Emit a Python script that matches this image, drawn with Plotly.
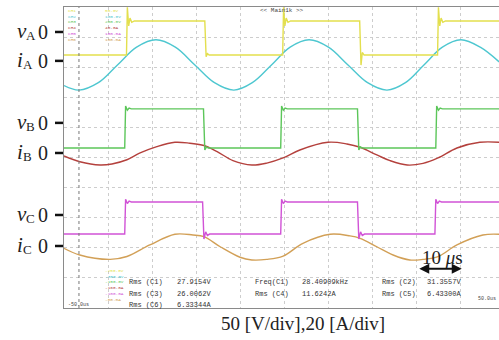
import plotly.graph_objects as go

# ---------------- data ----------------
# time in microseconds, 10 us/div, screen spans -50 us .. +50 us
# voltages in V (50 V/div), currents in A (20 A/div), relative to each channel's marked zero
vA_t = [-50, -35.8, -35.6, -35.3, -35.0, -34.6, -34.0, -18.0, -17.7, -17.4, -17.0,
        -0.3, -0.1, 0.2, 0.5, 0.9, 1.5, 17.2, 17.5, 17.8, 18.2,
        34.9, 35.1, 35.4, 35.7, 36.1, 36.7, 48.9]
vA_v = [-38.3, -38.3, 41, 10, 23, 16, 18.3, 18.3, -41, -36, -38.3,
        -38.3, 41, 10, 23, 16, 18.3, 18.3, -55, -34, -38.3,
        -38.3, 41, 10, 23, 16, 18.3, 18.3]

vB_t = [-50, -36.2, -36.0, -35.6, -35.2, -34.7, -18.3, -18.0, -17.6, -17.2,
        -0.75, -0.55, -0.15, 0.25, 0.75, 16.7, 17.0, 17.4, 17.8,
        34.5, 34.7, 35.1, 35.5, 36.0, 48.9]
vB_v = [-41.7, -41.7, 28, 21, 24.5, 23.3, 23.3, -45, -40, -41.7,
        -41.7, 28, 21, 24.5, 23.3, 23.3, -45, -40, -41.7,
        -41.7, 28, 21, 24.5, 23.3, 23.3]

vC_t = [-50, -36.2, -36.0, -35.6, -35.2, -34.7, -18.5, -18.2, -17.8, -17.4, -16.9,
        -0.75, -0.55, -0.15, 0.25, 0.75, 16.7, 17.0, 17.4, 17.8, 18.3,
        34.3, 34.5, 34.9, 35.3, 35.8, 48.9]
vC_v = [-31.7, -31.7, 26, 19, 23, 21.7, 21.7, -40, -28, -34, -31.7,
        -31.7, 26, 19, 23, 21.7, 21.7, -40, -28, -34, -31.7,
        -31.7, 26, 19, 23, 21.7, 21.7]

iA_t = [-50, -46.6, -42.2, -37.85, -33.5, -29.1, -24.7, -20.25, -15.8, -11.4, -7.2,
        -2.85, 1.4, 5.7, 10.1, 14.55, 19.0, 23.4, 27.6, 31.8, 36.0, 40.2, 44.6, 48.9]
iA_v = [-16.4, -19.4, -14.5, -2.7, 9.1, 14.0, 9.1, -2.7, -14.5, -19.4, -14.5,
        -2.7, 9.1, 14.0, 9.1, -2.7, -14.5, -19.4, -14.5, -2.7, 9.1, 14.0, 9.1, -0.7]

iB_t = [-50, -46.4, -41.8, -39.1, -35.7, -32.7, -28.9, -24.8, -21.4, -18.2, -15.2,
        -11.6, -7.3, -3.9, -0.2, 3.6, 10.0, 14.3, 17.3, 21.1, 24.1, 28.0, 31.6,
        35.0, 39.3, 44.5, 48.9]
iB_v = [-2.0, -5.8, -8.0, -7.3, -4.5, 0.0, 4.2, 7.1, 6.5, 5.0, 0.9,
        -5.1, -8.0, -6.7, -3.3, 2.0, 7.1, 6.0, 3.8, -1.3, -5.1, -8.0, -6.9,
        -3.3, 3.3, 7.1, 7.1]

iC_t = [-50, -46.4, -39.5, -35.7, -30.5, -24.8, -20.7, -18.2, -14.5, -10.0, -7.3,
        -3.9, -0.2, 4.3, 10.5, 15.0, 17.3, 21.1, 24.8, 28.6, 31.6, 35.0, 39.3,
        45.2, 48.9]
iC_v = [-1.5, -6.0, -8.9, -7.0, 0.7, 7.8, 7.3, 6.2, -0.5, -7.5, -9.3,
        -8.9, -6.7, 1.8, 7.8, 6.7, 5.1, -0.5, -6.0, -9.3, -8.9, -7.1, 0.7,
        7.3, 7.8]

V_PER_DIV = 50
A_PER_DIV = 20
# channel zero levels on screen (divisions from the bottom)
zero_div = {"vA": 9.17, "iA": 8.21, "vB": 6.15, "iB": 5.15, "vC": 3.09, "iC": 2.06}

channel_keys = ["vA", "iA", "vB", "iB", "vC", "iC"]
label_letters = ["v", "i", "v", "i", "v", "i"]
label_subs = ["A", "A", "B", "B", "C", "C"]
label_zero = "0"

ch_names = ["CH1", "CH2", "CH3", "CH4", "CH5", "CH6"]
ch_scales = ["50.0V", "100.0V", "200.0V", "40.0A", "100.0A", "100.0A"]
ch_offsets = ["-250.0V", "-350.0V", "-150.0V", "-160.0A", "-100.0A", "-80.0A"]

meas_rows = [
    [("Rms (C1)", "27.9154V"), ("Freq(C1)", "28.40909kHz"), ("Rms (C2)", "31.3557V")],
    [("Rms (C3)", "26.0062V"), ("Rms (C4)", "11.6242A"), ("Rms (C5)", "6.43300A")],
    [("Rms (C6)", "6.33344A")],
]

caption = "50 [V/div],20 [A/div]"
scale_label = "10 <i>μ</i>s"
scale_len_us = 10

# ---------------- styles ----------------
colors = {"vA": "#e3df4e", "iA": "#4ec7d0", "vB": "#5cc65a",
          "iB": "#b4413d", "vC": "#d153d6", "iC": "#d2a057"}
ch_colors = [colors[k] for k in channel_keys]

W, H = 499, 340
L, R, T, B = 64, 0, 7, 32
X0, X1 = -50, -50 + (W - L - R) / 4.4


def px(xp):
    return (xp - L) / (W - L - R)


def py(yp):
    return (H - B - yp) / (H - T - B)


def ypix(div):
    return (H - B) - div * (H - T - B) / 10.0


fig = go.Figure()

series = [("vA", vA_t, vA_v, V_PER_DIV, "linear"),
          ("iA", iA_t, iA_v, A_PER_DIV, "spline"),
          ("vB", vB_t, vB_v, V_PER_DIV, "linear"),
          ("iB", iB_t, iB_v, A_PER_DIV, "spline"),
          ("vC", vC_t, vC_v, V_PER_DIV, "linear"),
          ("iC", iC_t, iC_v, A_PER_DIV, "spline")]

# draw currents first, voltages on top
for key, t, v, sc, shape in sorted(series, key=lambda s: s[4] == "linear"):
    fig.add_trace(go.Scatter(
        x=t, y=[zero_div[key] + val / sc for val in v], mode="lines",
        line=dict(color=colors[key], width=1.4, shape=shape, smoothing=1.0),
        hoverinfo="skip"))

ann = []
shapes = []
serif = "Liberation Serif"
mono = "Liberation Mono"

# left channel labels with tick marks
for key, let, sub in zip(channel_keys, label_letters, label_subs):
    yl = ypix(zero_div[key])
    right = 28.5 if let == "v" else 25
    ann.append(dict(xref="paper", yref="paper", x=px(right), y=py(yl - 1), text="<i>%s</i>" % let,
                    showarrow=False, xanchor="right", yanchor="middle",
                    font=dict(family=serif, size=21, color="#222")))
    ann.append(dict(xref="paper", yref="paper", x=px(right - 4.5), y=py(yl + 4), text=sub,
                    showarrow=False, xanchor="left", yanchor="middle",
                    font=dict(family=serif, size=13, color="#222")))
    ann.append(dict(xref="paper", yref="paper", x=px(36), y=py(yl), text=label_zero,
                    showarrow=False, xanchor="left", yanchor="middle",
                    font=dict(family=serif, size=20, color="#222")))
    shapes.append(dict(type="line", xref="paper", yref="paper",
                       x0=px(55), x1=px(63), y0=py(yl), y1=py(yl),
                       line=dict(color="#111", width=2.5)))

# trigger marker line
shapes.append(dict(type="line", xref="x", yref="paper", x0=-46.6, x1=-46.6, y0=0, y1=1,
                   line=dict(color="#777", width=1, dash="dot")))


def colored_lines(items, cols):
    return "<br>".join('<span style="color:%s">%s</span>' % (c, s) for s, c in zip(items, cols))


tiny = 4.4
# scope channel info (top-left)
ann.append(dict(xref="paper", yref="paper", x=px(66), y=py(6), text=colored_lines(ch_names, ch_colors),
                showarrow=False, xanchor="left", yanchor="top", align="left",
                font=dict(family=mono, size=tiny, color="#333")))
ann.append(dict(xref="paper", yref="paper", x=px(103), y=py(6), text=colored_lines(ch_scales, ch_colors),
                showarrow=False, xanchor="left", yanchor="top", align="left",
                font=dict(family=mono, size=tiny, color="#333")))
# channel offsets (bottom-left)
ann.append(dict(xref="paper", yref="paper", x=px(103), y=py(266), text=colored_lines(ch_offsets, ch_colors),
                showarrow=False, xanchor="left", yanchor="top", align="left",
                font=dict(family=mono, size=tiny, color="#333")))

ann.append(dict(xref="paper", yref="paper", x=px(258), y=py(11), text="&lt;&lt; Main1k &gt;&gt;",
                showarrow=False, xanchor="left", yanchor="middle",
                font=dict(family=mono, size=6, color="#444")))

# measurements
cols = [(127, 175), (253, 300), (380, 425)]
rows_y = [282, 293.5, 304.5]
for r, row in enumerate(meas_rows):
    for c, (lab, val) in enumerate(row):
        for xx, txt in zip(cols[c], (lab, val)):
            ann.append(dict(xref="paper", yref="paper", x=px(xx), y=py(rows_y[r]), text=txt,
                            showarrow=False, xanchor="left", yanchor="middle",
                            font=dict(family=mono, size=7, color="#333")))

ann.append(dict(xref="paper", yref="paper", x=px(66), y=py(304.5), text="-50.0us",
                showarrow=False, xanchor="left", yanchor="middle",
                font=dict(family=mono, size=5, color="#444")))
ann.append(dict(xref="paper", yref="paper", x=px(498), y=py(299), text="50.0us",
                showarrow=False, xanchor="right", yanchor="middle",
                font=dict(family=mono, size=5, color="#444")))

# 10 us scale arrow
arrow_y = 1.3
arrow_x0 = 30.4
ann.append(dict(xref="x", yref="y", x=arrow_x0 + scale_len_us, y=arrow_y,
                axref="x", ayref="y", ax=arrow_x0, ay=arrow_y, text="",
                showarrow=True, arrowside="end+start", arrowhead=2, arrowsize=1,
                arrowwidth=2, arrowcolor="#111"))
ann.append(dict(xref="paper", yref="paper", x=px(442), y=py(257), text=scale_label,
                showarrow=False, xanchor="center", yanchor="middle",
                font=dict(family=serif, size=19, color="#222")))

# caption
ann.append(dict(xref="paper", yref="paper", x=px(303), y=py(323), text=caption,
                showarrow=False, xanchor="center", yanchor="middle",
                font=dict(family=serif, size=19, color="#222")))

fig.update_layout(
    width=W, height=H, margin=dict(l=L, r=R, t=T, b=B, pad=0),
    paper_bgcolor="white", plot_bgcolor="white", showlegend=False,
    annotations=ann, shapes=shapes,
    xaxis=dict(range=[X0, X1], tick0=-50, dtick=10, showticklabels=False, ticks="",
               showgrid=True, gridcolor="#cdcdcd", griddash="dot", gridwidth=1,
               zeroline=False, showline=True, linecolor="#8a8a8a", linewidth=1, mirror=True),
    yaxis=dict(range=[0, 10], tick0=0, dtick=1, showticklabels=False, ticks="",
               showgrid=True, gridcolor="#cdcdcd", griddash="dot", gridwidth=1,
               zeroline=False, showline=True, linecolor="#8a8a8a", linewidth=1),
)

fig.write_html("out.html", config={"displayModeBar": False},
               post_script="document.body.style.margin='0';document.body.style.padding='0';")
